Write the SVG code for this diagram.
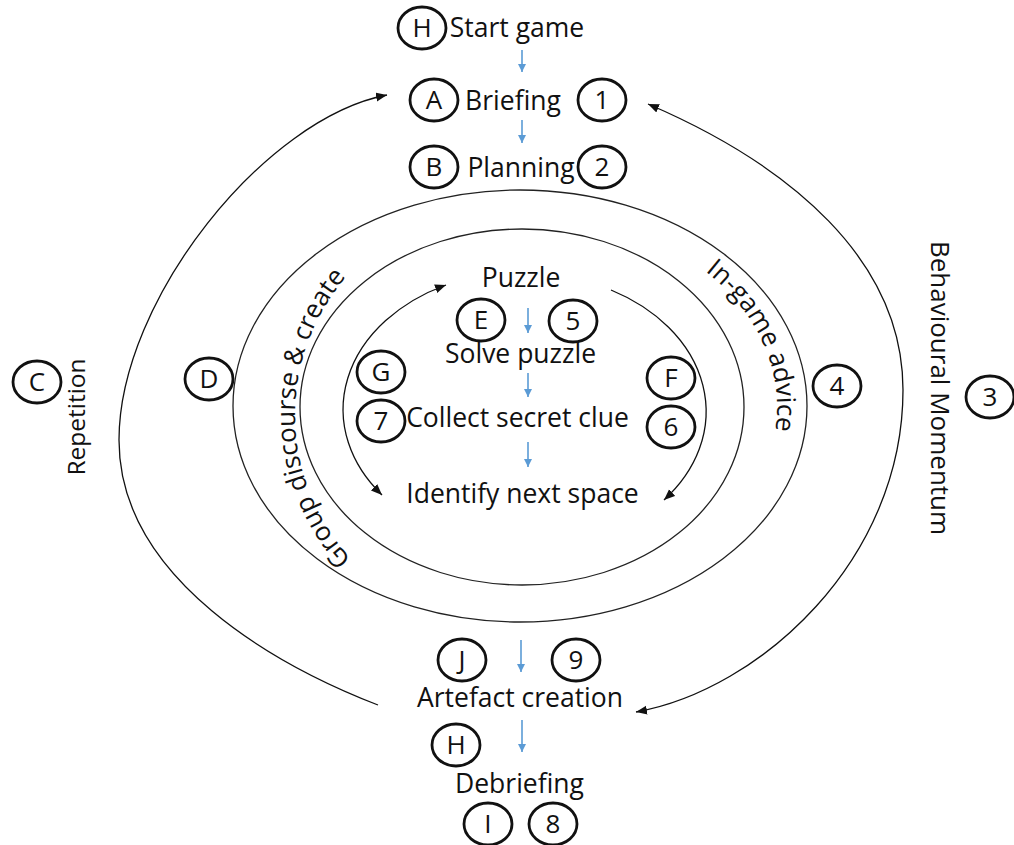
<svg xmlns="http://www.w3.org/2000/svg" width="1014" height="845" viewBox="0 0 1014 845">
<style>
text{font-family:"Open Sans","Liberation Sans",sans-serif;fill:#111}
.lbl{font-size:26.5px;text-anchor:middle}
.side{font-size:26px}
.badge ellipse{fill:#fff;stroke:#111;stroke-width:2.8}
.badge text{font-size:26px;text-anchor:middle}
.ring{fill:none;stroke:#222;stroke-width:1.3}
.conn{fill:none;stroke:#111;stroke-width:1.3}
.blue{stroke:#5B9BD5;stroke-width:1.6;fill:none}
</style>
<defs>
<marker id="ah" markerUnits="userSpaceOnUse" markerWidth="12" markerHeight="10" refX="11" refY="4.5" orient="auto-start-reverse"><path d="M0,0 L11,4.5 L0,9 z" fill="#111"/></marker>
<marker id="bh" markerUnits="userSpaceOnUse" markerWidth="9" markerHeight="9" refX="8" refY="4" orient="auto"><path d="M0,0 L8,4 L0,8 z" fill="#5B9BD5"/></marker>
<path id="pLeft" d="M 525 633 A 226 218 0 1 1 517 197"/>
<path id="pRight" d="M 649.5 238.1 A 255 195 0 0 1 649.5 575.9"/>
</defs>
<rect width="1014" height="845" fill="#fff"/>

<g id="rings">
<ellipse class="ring" cx="520" cy="406" rx="287" ry="216"/>
<ellipse class="ring" cx="522" cy="407" rx="222" ry="178"/>
</g>

<g id="connectors">
<path class="conn" d="M 378 705 C 280 667 119 580 119 440 C 119 300 265 118 387 95" marker-end="url(#ah)"/>
<path class="conn" d="M 648 104 C 790 165 903 260 903 390 C 903 560 760 690 636 712" marker-start="url(#ah)" marker-end="url(#ah)"/>
<path class="conn" d="M 382 495 A 181 138 0 0 1 446 285" marker-start="url(#ah)" marker-end="url(#ah)"/>
<path class="conn" d="M 611 290 A 181 138 0 0 1 664 500" marker-end="url(#ah)"/>
<line class="blue" x1="522" y1="50" x2="522" y2="72" marker-end="url(#bh)"/>
<line class="blue" x1="522" y1="120" x2="522" y2="143" marker-end="url(#bh)"/>
<line class="blue" x1="528" y1="308" x2="528" y2="333" marker-end="url(#bh)"/>
<line class="blue" x1="528" y1="373" x2="528" y2="397" marker-end="url(#bh)"/>
<line class="blue" x1="528" y1="442" x2="528" y2="467" marker-end="url(#bh)"/>
<line class="blue" x1="521" y1="640" x2="521" y2="672" marker-end="url(#bh)"/>
<line class="blue" x1="522" y1="720" x2="522" y2="752" marker-end="url(#bh)"/>
</g>

<g id="n-start"><text class="lbl" x="517" y="37">Start game</text></g>
<g id="n-briefing"><text class="lbl" x="513" y="110">Briefing</text></g>
<g id="n-planning"><text class="lbl" x="521" y="177">Planning</text></g>
<g id="n-puzzle"><text class="lbl" x="521" y="287">Puzzle</text></g>
<g id="n-solve"><text class="lbl" x="520.5" y="363">Solve puzzle</text></g>
<g id="n-collect"><text class="lbl" x="517.5" y="427">Collect secret clue</text></g>
<g id="n-identify"><text class="lbl" x="522.5" y="503">Identify next space</text></g>
<g id="n-artefact"><text class="lbl" x="520" y="707">Artefact creation</text></g>
<g id="n-debriefing"><text class="lbl" x="519.5" y="793">Debriefing</text></g>
<g id="n-repetition"><text class="side" style="font-size:24.5px" transform="translate(85,417) rotate(-90)" text-anchor="middle">Repetition</text></g>
<g id="n-momentum"><text class="side" transform="translate(931,388) rotate(90)" text-anchor="middle">Behavioural Momentum</text></g>
<g id="n-group"><text class="side"><textPath href="#pLeft" startOffset="50%" text-anchor="middle">Group discourse &amp; create</textPath></text></g>
<g id="n-advice"><text class="side"><textPath href="#pRight" startOffset="65">In-game advice</textPath></text></g>

<g id="b-H1" class="badge"><ellipse cx="422" cy="28" rx="24" ry="21"/><text x="422" y="37.3">H</text></g>
<g id="b-A" class="badge"><ellipse cx="434" cy="100" rx="24" ry="21"/><text x="434" y="109.3">A</text></g>
<g id="b-1" class="badge"><ellipse cx="602" cy="100" rx="24" ry="21"/><text x="602" y="109.3">1</text></g>
<g id="b-B" class="badge"><ellipse cx="434" cy="167" rx="24" ry="21"/><text x="434" y="176.3">B</text></g>
<g id="b-2" class="badge"><ellipse cx="602" cy="167" rx="24" ry="21"/><text x="602" y="176.3">2</text></g>
<g id="b-C" class="badge"><ellipse cx="37" cy="382" rx="24" ry="21"/><text x="37" y="391.3">C</text></g>
<g id="b-D" class="badge"><ellipse cx="209" cy="379" rx="24" ry="21"/><text x="209" y="388.3">D</text></g>
<g id="b-E" class="badge"><ellipse cx="481" cy="320" rx="24" ry="21"/><text x="481" y="329.3">E</text></g>
<g id="b-5" class="badge"><ellipse cx="573" cy="321" rx="24" ry="21"/><text x="573" y="330.3">5</text></g>
<g id="b-G" class="badge"><ellipse cx="381" cy="372" rx="24" ry="21"/><text x="381" y="381.3">G</text></g>
<g id="b-7" class="badge"><ellipse cx="381" cy="421" rx="24" ry="21"/><text x="381" y="430.3">7</text></g>
<g id="b-F" class="badge"><ellipse cx="671" cy="378" rx="24" ry="21"/><text x="671" y="387.3">F</text></g>
<g id="b-6" class="badge"><ellipse cx="671" cy="427" rx="24" ry="21"/><text x="671" y="436.3">6</text></g>
<g id="b-4" class="badge"><ellipse cx="837" cy="386" rx="24" ry="21"/><text x="837" y="395.3">4</text></g>
<g id="b-3" class="badge"><ellipse cx="990" cy="397" rx="24" ry="21"/><text x="990" y="406.3">3</text></g>
<g id="b-J" class="badge"><ellipse cx="462" cy="660" rx="24" ry="21"/><text x="462" y="669.3">J</text></g>
<g id="b-9" class="badge"><ellipse cx="576" cy="660" rx="24" ry="21"/><text x="576" y="669.3">9</text></g>
<g id="b-H2" class="badge"><ellipse cx="456" cy="745" rx="24" ry="21"/><text x="456" y="754.3">H</text></g>
<g id="b-I" class="badge"><ellipse cx="488" cy="824" rx="24" ry="21"/><text x="488" y="833.3">I</text></g>
<g id="b-8" class="badge"><ellipse cx="553" cy="824" rx="24" ry="21"/><text x="553" y="833.3">8</text></g>
</svg>
